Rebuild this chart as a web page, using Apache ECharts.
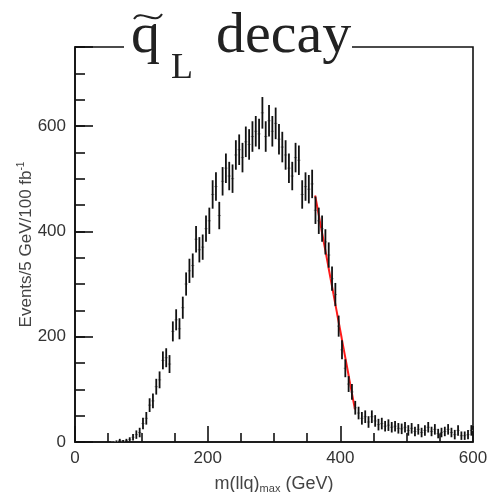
<!DOCTYPE html>
<html>
<head>
    <meta charset="utf-8">
    <title>squark L decay</title>
    <script src="https://cdn.jsdelivr.net/npm/echarts@6/dist/echarts.min.js"></script>
    <style>
        html, body { margin: 0; padding: 0; background: #fff; }
        #chart { width: 487px; height: 492px; }
    </style>
</head>
<body>
<div id="chart"></div>
<script type="text/javascript">
    // histogram: 5 GeV bins starting at 55 GeV
    var binStart = 55;
    var binWidth = 5;
    var counts = [
        0, 1, 3, 2, 3, 5, 9, 14, 18, 35,
        45, 70, 78, 105, 118, 155, 160, 148, 210, 232,
        215, 255, 300, 325, 335, 385, 365, 370, 405, 420,
        470, 485, 430, 495, 520, 505, 500, 545, 555, 540,
        570, 565, 580, 590, 585, 625, 580, 610, 590, 605,
        575, 560, 545, 520, 505, 540, 535, 470, 485, 480,
        490, 440, 420, 405, 380, 355, 310, 280, 220, 175,
        140, 110, 95, 65, 55, 45, 48, 38, 48, 40,
        33, 35, 30, 32, 28, 30, 26, 25, 28, 22,
        26, 20, 24, 18, 22, 28, 20, 24, 16, 18,
        20, 24, 18, 14, 22, 12, 12, 14, 22
    ];
    var errors = [
        1, 2, 3, 2, 3, 4, 6, 8, 9, 11,
        12, 13, 14, 15, 16, 17, 18, 17, 19, 20,
        20, 21, 22, 23, 23, 25, 24, 24, 25, 25,
        27, 27, 26, 27, 28, 27, 27, 28, 29, 28,
        29, 29, 29, 29, 29, 30, 29, 30, 29, 30,
        29, 29, 28, 28, 27, 28, 28, 27, 27, 27,
        27, 26, 25, 25, 24, 24, 23, 22, 20, 18,
        17, 15, 15, 13, 12, 12, 12, 11, 12, 11,
        11, 11, 10, 11, 10, 10, 10, 10, 10, 10,
        10, 9, 10, 9, 10, 10, 9, 10, 9, 9,
        9, 10, 9, 9, 10, 8, 8, 9, 10
    ];
    // linear fit of the edge
    var fitX = [362, 422];
    var fitY = [468, 62];
    var yLabels = [0, 200, 400, 600];

    var bins = [];
    for (var i = 0; i < counts.length; i++) {
        bins.push([binStart + binWidth * (i + 0.5), counts[i], errors[i]]);
    }
    var fitLine = [];
    for (var j = 0; j < fitX.length; j++) {
        fitLine.push([fitX[j], fitY[j]]);
    }

    function renderBin(params, api) {
        var c = api.value(0), v = api.value(1), e = api.value(2);
        var lo = api.coord([c, Math.max(v - e, 0)]);
        var hi = api.coord([c, v + e]);
        var l = api.coord([c - binWidth / 2, v]);
        var r = api.coord([c + binWidth / 2, v]);
        return {
            type: 'group',
            children: [
                {type: 'line', shape: {x1: l[0], y1: l[1], x2: r[0], y2: r[1]}, style: {stroke: '#9a9a9a', lineWidth: 1}},
                {type: 'line', shape: {x1: lo[0], y1: lo[1], x2: hi[0], y2: hi[1]}, style: {stroke: '#111', lineWidth: 1.8}}
            ]
        };
    }

    var tickLine = {color: '#111', width: 1.6};
    var myChart = echarts.init(document.getElementById('chart'));
    myChart.setOption({
        animation: false,
        backgroundColor: '#fff',
        grid: {
            left: 75, right: 14, top: 47, bottom: 50, containLabel: false, outerBoundsMode: 'none',
            show: true, borderColor: '#111', borderWidth: 1.6
        },
        graphic: [
            {type: 'rect', z: 100, shape: {x: 124, y: 42, width: 228, height: 10}, style: {fill: '#fff'}},
            {type: 'bezierCurve', z: 101,
                shape: {x1: 134, y1: 19, cpx1: 141, cpy1: 8, cpx2: 155, cpy2: 26, x2: 162, y2: 14},
                style: {stroke: '#222', lineWidth: 2, fill: null}},
            {type: 'text', z: 101, x: 131, y: 37,
                style: {text: 'q', font: '58px "Liberation Serif"', fill: '#222', verticalAlign: 'middle'}},
            {type: 'text', z: 101, x: 171, y: 69,
                style: {text: 'L', font: '36px "Liberation Serif"', fill: '#222', verticalAlign: 'middle'}},
            {type: 'text', z: 101, x: 216, y: 37,
                style: {text: 'decay', font: '58px "Liberation Serif"', fill: '#222', verticalAlign: 'middle'}}
        ],
        xAxis: {
            type: 'value', min: 0, max: 600, interval: 200, position: 'bottom',
            axisLine: {lineStyle: tickLine},
            axisTick: {inside: true, length: 16, lineStyle: tickLine},
            minorTick: {show: true, splitNumber: 4, length: 9, lineStyle: tickLine},
            splitLine: {show: false},
            axisLabel: {color: '#333', fontSize: 17, fontFamily: 'Liberation Sans', margin: 8},
            name: '{a|m(llq)}{s|max}{a| (GeV)}',
            nameLocation: 'middle',
            nameGap: 32,
            nameMoveOverlap: false,
            nameTextStyle: {
                rich: {
                    a: {fontSize: 18, fontFamily: 'Liberation Sans', color: '#444', lineHeight: 20},
                    s: {fontSize: 11, fontFamily: 'Liberation Sans', color: '#444', verticalAlign: 'bottom', lineHeight: 11}
                }
            }
        },
        yAxis: [
            {
                type: 'value', min: 0, max: 750, interval: 50, position: 'left',
                axisLine: {lineStyle: tickLine},
                axisTick: {inside: true, length: 10, lineStyle: tickLine},
                splitLine: {show: false},
                axisLabel: {
                    color: '#333', fontSize: 17, fontFamily: 'Liberation Sans', margin: 9,
                    formatter: function (v) { return yLabels.indexOf(v) >= 0 ? String(v) : ''; }
                },
                name: '{a|Events/5 GeV/100 fb}{b|-1}',
                nameLocation: 'middle',
                nameRotate: 90,
                nameGap: 39,
                nameMoveOverlap: false,
                nameTextStyle: {
                    rich: {
                        a: {fontSize: 17, fontFamily: 'Liberation Sans', color: '#444', lineHeight: 20},
                        b: {fontSize: 10, fontFamily: 'Liberation Sans', color: '#444', verticalAlign: 'top', lineHeight: 10}
                    }
                }
            },
            {
                type: 'value', min: 0, max: 750, interval: 200, position: 'left',
                axisLine: {show: false},
                axisTick: {inside: true, length: 18, lineStyle: tickLine},
                axisLabel: {show: false},
                splitLine: {show: false}
            }
        ],
        series: [
            {
                type: 'line', data: fitLine, symbol: 'none',
                lineStyle: {color: '#ff1a1a', width: 2}, z: 2
            },
            {
                type: 'custom', data: bins, renderItem: renderBin,
                encode: {x: 0, y: 1}, clip: true, z: 3
            }
        ]
    });
</script>
</body>
</html>
